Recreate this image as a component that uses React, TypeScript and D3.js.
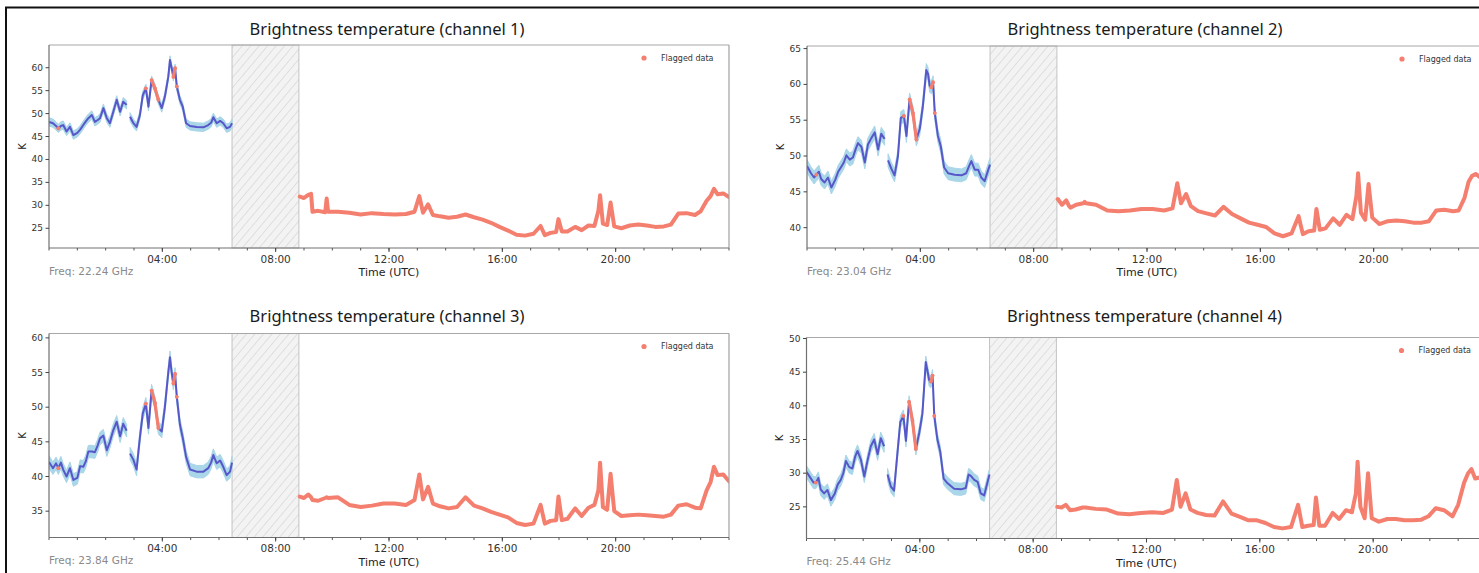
import React from 'react';
import * as d3 from 'd3';

// ---------- DATA ----------
const timesA = [0,0.14,0.25,0.33,0.42,0.5,0.62,0.74,0.86,1.0,1.1,1.21,1.3,1.39,1.51,1.62,1.72,1.8,1.92,2.04,2.15,2.27,2.39,2.51,2.62,2.74,2.8,2.86,2.98,3.09,3.21,3.31,3.42,3.51,3.62,3.74,3.86,3.98,4.09,4.21,4.27,4.33,4.39,4.45,4.51,4.62,4.72,4.84,4.98,5.21,5.45,5.62,5.72,5.8,5.92,6.04,6.15,6.27,6.39,6.46];

const ch1A = [48.2,47.9,47.3,46.8,47.3,47.5,46.1,47.1,45.3,45.8,46.5,47.5,48.3,49.0,49.7,48.2,48.6,49.0,51.2,49.0,47.9,50.4,53.0,50.4,52.6,51.9,null,49.3,47.9,47.1,49.7,54.0,55.5,51.5,57.3,55.5,53.0,51.2,53.7,58.0,61.7,59.9,58.0,59.9,55.9,53.0,51.5,47.9,47.3,47.1,47.0,47.5,48.0,49.2,47.9,48.4,47.9,46.8,47.1,47.9];
const ch2A = [48.6,47.6,47.0,47.4,47.8,46.8,46.3,47.0,45.6,46.7,47.8,48.5,49.1,50.1,49.5,49.8,51.0,51.8,51.3,49.1,51.6,52.5,53.3,50.9,53.1,52.4,null,49.4,48.2,47.3,50.0,55.3,55.6,52.8,57.9,56.0,52.3,53.8,57.0,62.0,61.5,59.8,59.6,60.3,56.0,52.8,51.4,48.4,47.6,47.4,47.3,47.6,48.6,49.3,48.1,48.1,47.0,46.5,48.0,48.8];
const ch3A = [42.1,41.2,41.9,41.2,42.0,41.0,40.0,41.2,39.5,39.8,41.5,41.4,42.2,43.6,43.6,43.5,44.5,45.5,45.9,43.8,45.0,46.7,47.9,45.8,47.6,46.6,null,43.3,42.4,41.0,45.7,49.1,50.5,47.0,52.4,50.6,47.0,46.5,50.0,55.0,57.2,55.0,53.4,54.8,51.5,47.5,45.6,42.8,41.0,40.7,40.7,41.2,42.0,43.1,41.9,42.3,41.4,40.2,40.7,42.0];
const ch4A = [30.2,29.3,28.6,28.6,29.3,27.6,27.0,27.5,26.0,27.0,28.3,29.0,30.0,31.8,30.9,30.7,32.5,33.3,32.0,29.5,31.8,34.0,35.0,32.8,35.2,34.0,null,29.8,28.0,27.4,33.0,37.6,38.5,34.8,40.6,37.8,33.6,36.0,38.8,46.5,45.2,43.8,43.6,44.5,38.5,35.0,33.2,29.2,28.5,27.7,27.6,27.8,29.8,29.6,29.0,28.7,27.0,26.7,28.7,29.8];

const timesB = [8.85,9.0,9.15,9.25,9.3,9.5,9.75,9.8,9.85,10.2,10.6,11.0,11.4,11.8,12.2,12.6,12.9,13.07,13.2,13.38,13.55,13.8,14.1,14.4,14.7,15.0,15.3,15.6,15.9,16.2,16.5,16.8,17.1,17.35,17.5,17.7,17.9,17.98,18.1,18.3,18.57,18.8,19.04,19.25,19.39,19.45,19.55,19.7,19.82,19.95,20.2,20.5,20.8,21.1,21.4,21.7,21.95,22.21,22.5,22.8,23.0,23.21,23.35,23.47,23.6,23.8,24.0];

const ch1B = [31.9,31.6,32.3,32.5,28.6,28.8,28.5,31.5,28.6,28.6,28.4,28.0,28.3,28.1,28.0,28.1,28.6,32.0,28.4,30.2,27.9,27.6,27.3,27.5,28.0,27.4,26.9,26.2,25.3,24.5,23.6,23.4,23.8,25.5,23.5,24.0,24.2,27.0,24.3,24.3,25.3,24.6,25.6,25.5,28.8,32.2,26.0,25.7,30.6,25.4,25.0,25.6,25.8,25.6,25.3,25.4,25.8,28.2,28.3,27.9,28.7,31.0,32.0,33.6,32.4,32.6,31.8];
const ch2B = [44.0,43.2,43.8,43.0,42.8,43.2,43.4,43.6,43.4,43.2,42.4,42.3,42.4,42.6,42.6,42.4,42.7,46.2,43.4,44.7,43.0,42.3,42.0,41.7,42.9,41.9,41.3,40.7,40.4,40.1,39.2,38.8,39.2,41.6,39.1,39.5,39.6,42.6,39.7,39.9,41.3,40.4,41.8,41.2,44.4,47.6,42.1,41.1,46.1,41.4,40.5,40.9,41.0,40.9,40.7,40.7,40.9,42.4,42.5,42.3,42.4,44.2,46.4,47.2,47.5,46.9,47.0];
const ch3B = [37.1,36.9,37.4,37.0,36.6,36.5,36.9,37.0,36.9,37.0,35.9,35.6,35.8,36.1,36.1,35.9,36.6,40.3,36.7,38.5,36.1,35.7,35.4,35.6,37.0,35.8,35.4,34.9,34.5,34.1,33.3,33.0,33.2,35.9,33.2,33.6,33.7,37.1,33.7,33.9,35.4,34.3,35.5,35.9,38.0,42.0,35.6,35.2,40.4,35.0,34.3,34.4,34.5,34.4,34.3,34.2,34.5,35.8,36.0,35.5,35.4,38.0,39.2,41.4,40.2,40.3,39.3];
const ch4B = [25.0,24.9,25.3,24.8,24.5,24.6,24.9,24.9,24.9,24.7,24.6,24.0,23.9,24.1,24.2,24.1,24.6,29.0,25.0,27.0,24.6,24.1,23.8,23.7,25.8,24.0,23.5,23.0,23.0,22.6,22.0,21.8,22.0,25.3,22.0,22.2,22.3,26.4,22.2,22.2,24.1,23.2,24.5,24.2,27.0,31.7,25.0,23.3,30.0,23.3,22.8,23.2,23.2,23.0,23.0,23.1,23.6,24.8,24.5,23.6,25.3,28.6,30.0,30.6,29.2,29.4,29.5];

const flaggedRangesA = [[0.28, 0.38], [3.38, 3.47], [3.56, 3.9], [4.35, 4.47], [4.5, 4.57]];
const noDataRange = [6.46, 8.82];
const errorK = 0.9;

const channels = ['1', '2', '3', '4'];
const freqs = ['22.24', '23.04', '23.84', '25.44'];
const yDomains = [[20.7, 64.95], [37.16, 65.36], [31.2, 60.63], [20.3, 50.15]];
const yTicks = [[25, 30, 35, 40, 45, 50, 55, 60], [40, 45, 50, 55, 60, 65], [35, 40, 45, 50, 55, 60], [25, 30, 35, 40, 45, 50]];
const xMajor = [4, 8, 12, 16, 20];
const xMajorLabels = ['04:00', '08:00', '12:00', '16:00', '20:00'];
const xMinor = d3.range(0, 25, 1);

const seriesA = [ch1A, ch2A, ch3A, ch4A];
const seriesB = [ch1B, ch2B, ch3B, ch4B];

// ---------- LAYOUT ----------
const W = 1479, H = 573;
const layout = [
  { l: 49, r: 729, t: 45, b: 248, titleY: 28 },
  { l: 807, r: 1487, t: 46, b: 248, titleY: 28 },
  { l: 49, r: 729, t: 333.5, b: 537.5, titleY: 315 },
  { l: 806.5, r: 1486.5, t: 337.5, b: 538.5, titleY: 315 },
];

const BLUE = '#5757c9';
const BAND = '#a9d6e8';
const SALMON = '#f47f6f';
const TICKFONT = '"DejaVu Sans", sans-serif';

type P = { t: number; v: number | null };

function Panel({ idx }: { idx: number }) {
  const L = layout[idx];
  const x = d3.scaleLinear().domain([0, 24]).range([L.l, L.r]);
  const y = d3.scaleLinear().domain(yDomains[idx]).range([L.b, L.t]);
  const ptsA: P[] = timesA.map((t, i) => ({ t, v: seriesA[idx][i] }));
  const ptsB: P[] = timesB.map((t, i) => ({ t, v: seriesB[idx][i] }));
  const line = d3.line<P>().defined(d => d.v != null).x(d => x(d.t)).y(d => y(d.v as number));
  const band = d3.area<P>().defined(d => d.v != null).x(d => x(d.t))
    .y0(d => y((d.v as number) - errorK)).y1(d => y((d.v as number) + errorK));
  const clipId = `clip${idx}`;
  const cx = (L.l + L.r) / 2;
  const flaggedPts = flaggedRangesA.map(r => ptsA.filter(p => p.v != null && p.t >= r[0] && p.t <= r[1]));

  return (
    <g>
      <defs>
        <clipPath id={clipId}>
          <rect x={L.l} y={L.t} width={L.r - L.l} height={L.b - L.t} />
        </clipPath>
      </defs>
      <text x={cx - 2} y={L.titleY} textAnchor="middle" dominantBaseline="central"
        style={{ font: '16.5px "Noto Sans", sans-serif', fill: '#1a1a1a' }}>
        {`Brightness temperature (channel ${channels[idx]})`}
      </text>
      {/* no-data hatched region */}
      <rect x={x(noDataRange[0])} y={L.t} width={x(noDataRange[1]) - x(noDataRange[0])} height={L.b - L.t}
        fill="#f3f3f3" stroke="none" />
      <rect x={x(noDataRange[0])} y={L.t} width={x(noDataRange[1]) - x(noDataRange[0])} height={L.b - L.t}
        fill="url(#hatch)" stroke="#c4c4c4" strokeWidth={1} />
      <g clipPath={`url(#${clipId})`}>
        <path d={band(ptsA) || ''} fill={BAND} stroke={BAND} strokeWidth={1} />
        <path d={line(ptsA) || ''} fill="none" stroke={BLUE} strokeWidth={2} strokeLinejoin="round" />
        {flaggedPts.map((pts, i) => (
          <g key={i}>
            <path d={line(pts) || ''} fill="none" stroke={SALMON} strokeWidth={3.2} strokeLinecap="round" strokeLinejoin="round" />
            {pts.map((p, j) => <circle key={j} cx={x(p.t)} cy={y(p.v as number)} r={1.9} fill={SALMON} />)}
          </g>
        ))}
        <path d={line(ptsB) || ''} fill="none" stroke={SALMON} strokeWidth={4} strokeLinejoin="round" strokeLinecap="round" />
      </g>
      {/* spines */}
      <line x1={L.l} x2={L.r} y1={L.t} y2={L.t} stroke="#a8a8a8" strokeWidth={1.2} />
      <line x1={L.r} x2={L.r} y1={L.t} y2={L.b} stroke="#a0a0a0" strokeWidth={1.2} />
      <line x1={L.l} x2={L.l} y1={L.t} y2={L.b} stroke="#707070" strokeWidth={1.2} />
      <line x1={L.l} x2={L.r} y1={L.b} y2={L.b} stroke="#707070" strokeWidth={1.2} />
      {/* x ticks */}
      {xMinor.map(h => (
        <line key={'m' + h} x1={x(h)} x2={x(h)} y1={L.b} y2={L.b + 2.5} stroke="#555" strokeWidth={1} />
      ))}
      {xMajor.map((h, i) => (
        <g key={'M' + h}>
          <line x1={x(h)} x2={x(h)} y1={L.b} y2={L.b + 4} stroke="#444" strokeWidth={1} />
          <text x={x(h)} y={L.b + 10.5} textAnchor="middle" dominantBaseline="central"
            style={{ font: `10.5px ${TICKFONT}`, fill: '#333' }}>{xMajorLabels[i]}</text>
        </g>
      ))}
      {/* y ticks */}
      {yTicks[idx].map(v => (
        <g key={'y' + v}>
          <line x1={L.l - 3.5} x2={L.l} y1={y(v)} y2={y(v)} stroke="#444" strokeWidth={1} />
          <text x={L.l - 6} y={y(v)} textAnchor="end" dominantBaseline="central"
            style={{ font: `9px ${TICKFONT}`, fill: '#333' }}>{v}</text>
        </g>
      ))}
      <text transform={`translate(${L.l - 27},${(L.t + L.b) / 2}) rotate(-90)`} textAnchor="middle" dominantBaseline="central"
        style={{ font: `10px ${TICKFONT}`, fill: '#222' }}>K</text>
      <text x={cx} y={L.b + 24.5} textAnchor="middle" dominantBaseline="central"
        style={{ font: `11px ${TICKFONT}`, fill: '#222' }}>Time (UTC)</text>
      <text x={L.l} y={L.b + 22.5} textAnchor="start" dominantBaseline="central"
        style={{ font: `10.5px ${TICKFONT}`, fill: '#8a8a8a' }}>{`Freq: ${freqs[idx]} GHz`}</text>
      {/* legend */}
      <circle cx={L.r - 85} cy={L.t + 13} r={2.6} fill={SALMON} />
      <text x={L.r - 68} y={L.t + 13} dominantBaseline="central"
        style={{ font: `8px ${TICKFONT}`, fill: '#333' }}>Flagged data</text>
    </g>
  );
}

export default function App() {
  return (
    <svg width={W} height={H} viewBox={`0 0 ${W} ${H}`}
      style={{ position: 'absolute', left: 0, top: 0, display: 'block', background: '#fff' }}>
      <defs>
        <pattern id="hatch" patternUnits="userSpaceOnUse" width={6.5} height={6.5} patternTransform="rotate(40)">
          <line x1={0} y1={0} x2={0} y2={6.5} stroke="#c6c6c6" strokeWidth={0.9} />
        </pattern>
      </defs>
      <rect x={0} y={0} width={W} height={H} fill="#fff" />
      {layout.map((_, i) => <Panel key={i} idx={i} />)}
      <rect x={6} y={7.5} width={W + 20} height={H + 20} fill="none" stroke="#111" strokeWidth={2} />
    </svg>
  );
}
